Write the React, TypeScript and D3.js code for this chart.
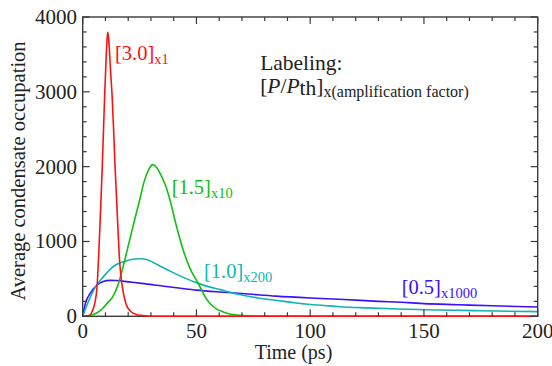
import React, { useEffect, useRef } from "react";
import * as d3 from "d3";

// time axis (ps) and occupation values
const redT = [0, 2, 3, 3.8, 4.5, 5.3, 6.3, 7, 7.7, 8.5, 9.1, 9.7, 10.3, 10.7, 11, 11.3, 11.7, 12.3, 12.9, 13.6, 14.3, 15, 15.6, 16.1, 16.8, 17.5, 18.3, 19.2, 20.5, 22, 23.5, 25.5, 28, 32, 40, 200];
const redV = [0, 3, 12, 40, 90, 173, 395, 795, 1300, 1920, 2450, 2995, 3450, 3700, 3795, 3740, 3580, 3250, 2960, 2480, 1951, 1500, 1100, 795, 540, 380, 250, 150, 85, 45, 25, 12, 5, 1, 0, 0];

const greenT = [0, 3, 6, 9, 10.7, 13, 15.5, 18.4, 20.8, 23, 25, 27, 29, 30.8, 32.5, 34.5, 36.5, 38.4, 41, 44.2, 47, 50.8, 54, 57.4, 62, 67.7, 75, 85, 200];
const greenV = [0, 8, 40, 110, 173, 250, 420, 740, 1040, 1310, 1550, 1800, 1960, 2027, 1990, 1880, 1740, 1550, 1230, 884, 650, 440, 250, 128, 55, 17, 4, 0, 0];

const cyanT = [0, 1, 2, 4, 6, 8, 10, 12.5, 15, 17.5, 20, 23, 25.5, 28, 31, 35, 40, 45, 50.8, 56, 60, 65, 70, 77, 84, 91, 98, 106, 113, 125, 139, 157, 175, 200];
const cyanV = [0, 80, 160, 300, 410, 490, 560, 640, 695, 725, 750, 765, 770, 760, 720, 655, 580, 510, 440, 390, 360, 320, 285, 245, 217, 190, 164, 145, 128, 112, 97, 84, 74, 62];

const blueT = [0, 1.2, 3.3, 6.3, 9, 12, 15, 20, 26, 35, 43, 50, 60, 70, 85, 100, 115, 130, 140, 150, 165, 180, 200];
const blueV = [0, 173, 307, 417, 465, 480, 478, 460, 440, 405, 375, 350, 325, 305, 270, 245, 225, 200, 187, 170, 155, 140, 124];

const xTicks = [0, 50, 100, 150, 200];
const yTicks = [0, 1000, 2000, 3000, 4000];

// label text, anchor in data units (t, value)
const labelMain = ["[3.0]", "[1.5]", "[1.0]", "[0.5]"];
const labelSub = ["x1", "x10", "x200", "x1000"];
const labelT = [14.2, 39.1, 53.3, 140.2];
const labelV = [3425, 1634, 512, 298];

const colors = ["#ff1010", "#10c010", "#10b4b4", "#3a10ff"];

export default function App() {
  const ref = useRef<SVGSVGElement>(null);

  useEffect(() => {
    const svg = d3.select(ref.current);
    svg.selectAll("*").remove();

    const left = 82.7, right = 537.7, top = 17, bottom = 316.3;
    const x = d3.scaleLinear().domain([0, 200]).range([left, right]);
    const y = d3.scaleLinear().domain([0, 4000]).range([bottom, top]);
    const font = "'Liberation Serif', 'Times New Roman', serif";

    const line = d3.line<[number, number]>()
      .x(d => x(d[0]))
      .y(d => y(d[1]))
      .curve(d3.curveMonotoneX);

    const axisColor = "#3a3a3a";
    // frame first, curves over it
    svg.append("rect")
      .attr("x", left).attr("y", top)
      .attr("width", right - left).attr("height", bottom - top)
      .attr("fill", "none").attr("stroke", axisColor).attr("stroke-width", 1.4);

    const series: [number[], number[]][] = [[blueT, blueV], [cyanT, cyanV], [greenT, greenV], [redT, redV]];
    const sColors = [colors[3], colors[2], colors[1], colors[0]];
    const clip = svg.append("defs").append("clipPath").attr("id", "plotclip");
    clip.append("rect").attr("x", left).attr("y", top).attr("width", right - left).attr("height", bottom - top + 1.5);

    const g = svg.append("g").attr("clip-path", "url(#plotclip)");
    series.forEach(([t, v], i) => {
      g.append("path")
        .attr("d", line(t.map((tt, j) => [tt, v[j]] as [number, number])))
        .attr("fill", "none")
        .attr("stroke", sColors[i])
        .attr("stroke-width", 1.6);
    });

    // ticks (inward, all sides)
    const xMinor = d3.range(0, 201, 10);
    xMinor.forEach(v => {
      const len = v % 50 === 0 ? 7 : 4;
      svg.append("line").attr("x1", x(v)).attr("x2", x(v)).attr("y1", bottom).attr("y2", bottom - len)
        .attr("stroke", axisColor).attr("stroke-width", 1.2);
      svg.append("line").attr("x1", x(v)).attr("x2", x(v)).attr("y1", top).attr("y2", top + len)
        .attr("stroke", axisColor).attr("stroke-width", 1.2);
    });
    const yMinor = d3.range(0, 4001, 200);
    yMinor.forEach(v => {
      const len = v % 1000 === 0 ? 7 : 4;
      svg.append("line").attr("x1", left).attr("x2", left + len).attr("y1", y(v)).attr("y2", y(v))
        .attr("stroke", axisColor).attr("stroke-width", 1.2);
      svg.append("line").attr("x1", right).attr("x2", right - len).attr("y1", y(v)).attr("y2", y(v))
        .attr("stroke", axisColor).attr("stroke-width", 1.2);
    });

    // tick labels
    svg.selectAll("text.xt").data(xTicks).enter().append("text")
      .attr("x", d => x(d)).attr("y", 338)
      .attr("text-anchor", "middle")
      .attr("font-family", font).attr("font-size", 21).attr("fill", "#222")
      .text(d => d);
    svg.selectAll("text.yt").data(yTicks).enter().append("text")
      .attr("x", 77).attr("y", d => y(d) + 7)
      .attr("text-anchor", "end")
      .attr("font-family", font).attr("font-size", 21).attr("fill", "#222")
      .text(d => d);

    // axis titles
    svg.append("text")
      .attr("x", 293.5).attr("y", 359)
      .attr("text-anchor", "middle")
      .attr("font-family", font).attr("font-size", 20).attr("fill", "#222")
      .text("Time (ps)");
    svg.append("text")
      .attr("transform", "translate(25,171) rotate(-90)")
      .attr("text-anchor", "middle")
      .attr("font-family", font).attr("font-size", 20.5).attr("fill", "#222")
      .text("Average condensate occupation");

    // curve labels
    labelMain.forEach((m, i) => {
      const t = svg.append("text")
        .attr("x", x(labelT[i])).attr("y", y(labelV[i]))
        .attr("font-family", font).attr("font-size", 20.5).attr("fill", colors[i]);
      t.append("tspan").text(m);
      t.append("tspan").attr("font-size", 14.5).attr("dy", 4).text(labelSub[i]);
    });

    // legend note
    svg.append("text")
      .attr("x", x(78)).attr("y", 70)
      .attr("font-family", font).attr("font-size", 21.5).attr("fill", "#222")
      .text("Labeling:");
    const l2 = svg.append("text")
      .attr("x", x(78)).attr("y", 93)
      .attr("font-family", font).attr("font-size", 21.5).attr("fill", "#222");
    l2.append("tspan").text("[");
    l2.append("tspan").attr("font-style", "italic").text("P");
    l2.append("tspan").text("/");
    l2.append("tspan").attr("font-style", "italic").text("P");
    l2.append("tspan").attr("dy", 2).text("th");
    l2.append("tspan").attr("dy", -2).text("]");
    l2.append("tspan").attr("font-size", 16).attr("dy", 4).text("x(amplification factor)");
  }, []);

  return (
    <svg ref={ref} width={552} height={366}
      style={{ position: "absolute", left: 0, top: 0, background: "#fff" }} />
  );
}
